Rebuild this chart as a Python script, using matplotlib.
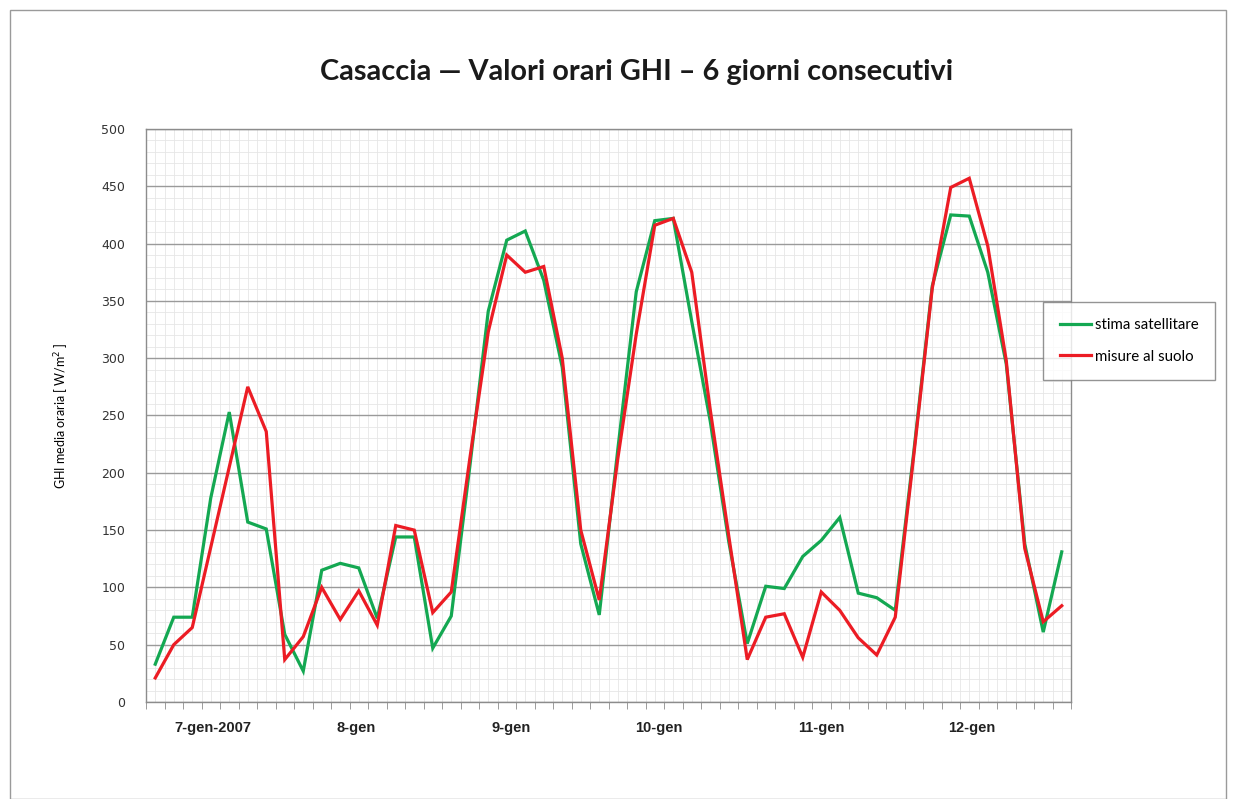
import matplotlib
matplotlib.use("Agg")
import matplotlib.pyplot as plt
from matplotlib.patches import Rectangle
from matplotlib.ticker import MultipleLocator
import numpy as np

# hourly GHI, 6 consecutive days (W/m2)
satellite = [33, 74, 74, 178, 253, 157, 151, 59, 27, 115,
             121, 117, 73, 144, 144, 47, 75, 205, 341, 403,
             411, 368, 292, 138, 76, 220, 358, 420, 422, 332,
             245, 140, 51, 101, 99, 127, 141, 161, 95, 91,
             80, 218, 363, 425, 424, 375, 295, 138, 61, 131]
ground = [21, 50, 65, 135, 205, 275, 236, 37, 57, 100,
          72, 97, 67, 154, 150, 78, 96, 212, 323, 390,
          375, 380, 300, 150, 89, 212, 321, 416, 422, 375,
          255, 145, 37, 74, 77, 39, 96, 80, 56, 41,
          74, 215, 361, 449, 457, 398, 298, 134, 70, 84]
day_labels = ["7-gen-2007", "8-gen", "9-gen", "10-gen", "11-gen", "12-gen"]
day_label_pos = [3.1, 10.85, 19.25, 27.2, 36.0, 44.15]

GREEN, RED = "#14a852", "#ec1c24"
FRAME, GRID, FINE = "#8c8c8c", "#9a9a9a", "#e6e6e6"
SANS = ["Lato", "DejaVu Sans"]
NARROW = ["Liberation Sans Narrow", "Liberation Sans", "DejaVu Sans"]

fig = plt.figure(figsize=(12.36, 7.99), dpi=100)
fig.patches.append(Rectangle((10 / 1236, 0), 1216 / 1236, 789 / 799,
                             transform=fig.transFigure, fill=False,
                             edgecolor="#9a9a9a", lw=1.0))
ax = fig.add_axes([146 / 1236, 97 / 799, 925 / 1236, 573 / 799])

x = np.arange(len(satellite))
ax.plot(x, satellite, color=GREEN, lw=2.3, label="stima satellitare",
        solid_joinstyle="miter", zorder=3)
ax.plot(x, ground, color=RED, lw=2.3, label="misure al suolo",
        solid_joinstyle="miter", zorder=4)

ax.set_xlim(-0.5, len(satellite) - 0.5)
ax.set_ylim(0, 500)
ax.yaxis.set_major_locator(MultipleLocator(50))
ax.yaxis.set_minor_locator(MultipleLocator(10))
ax.set_xticks(np.arange(-0.5, len(satellite)), minor=True)
ax.set_xticks(day_label_pos, day_labels, fontweight="bold", fontsize=10.5,
              family=NARROW, color="#222222")
ax.tick_params(axis="x", which="major", length=0, pad=14)
ax.tick_params(axis="x", which="minor", length=5, color=FRAME, direction="out")
ax.tick_params(axis="y", which="major", length=0, labelsize=9,
               labelcolor="#333333", pad=15)
ax.tick_params(axis="y", which="minor", length=0)

ax.grid(axis="y", which="major", color=GRID, lw=1.0, zorder=1)
ax.grid(axis="y", which="minor", color=FINE, lw=0.6, zorder=0)
for xv in np.arange(-0.5, len(satellite), 0.5):
    ax.axvline(xv, color=FINE, lw=0.6, zorder=0)
for s in ax.spines.values():
    s.set_color(FRAME)
    s.set_linewidth(1.0)

ax.set_ylabel("GHI media oraria [ W/m$^2$ ]", fontsize=9, family=SANS,
              labelpad=22)

fig.text(637 / 1236, 1 - 72 / 799,
         "Casaccia — Valori orari GHI – 6 giorni consecutivi",
         ha="center", va="center", fontsize=20.8, fontweight="bold",
         family=SANS, color="#1a1a1a")

leg = ax.legend(loc="center left", bbox_to_anchor=(1043 / 1236, 1 - 341 / 799),
                bbox_transform=fig.transFigure, frameon=True, fancybox=False,
                handlelength=2.1, handletextpad=0.25,
                labelspacing=1.15, borderpad=1.1, borderaxespad=0,
                prop={"family": SANS, "size": 10.8})
leg.get_frame().set_edgecolor("#7a7a7a")
leg.get_frame().set_linewidth(1.0)
leg.set_zorder(10)

fig.savefig("out.png", dpi=100, facecolor="white")
